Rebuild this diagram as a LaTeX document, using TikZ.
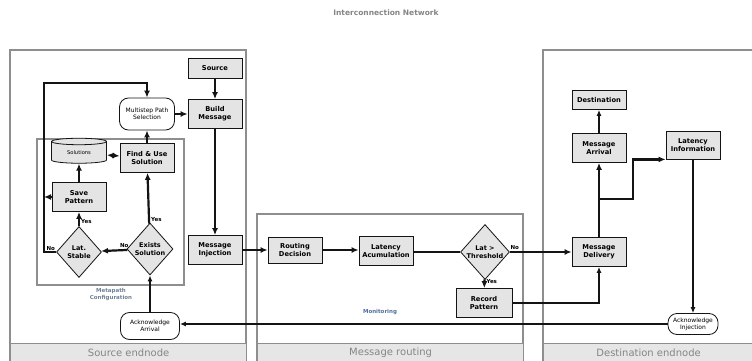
\documentclass[tikz,border=0pt]{standalone}
\usepackage{fontspec}
\setmainfont{DejaVu Sans}
\usetikzlibrary{
  arrows.meta,
  positioning,
  shapes.geometric
}
\definecolor{ink}{HTML}{141414}
\definecolor{boxfill}{HTML}{E4E4E4}
\definecolor{frame}{HTML}{8E8E8E}
\definecolor{band}{HTML}{E6E6E6}
\definecolor{bandtext}{HTML}{858585}
\definecolor{groupblue}{HTML}{6F8296}
\definecolor{monblue}{HTML}{4F6F9F}
\tikzset{
  flow/.style={
    -{Latex[length=7pt,width=6pt]},
    line width=2.2pt,
    draw=ink
  },
  thinflow/.style={
    -{Latex[length=6pt,width=5pt]},
    line width=1.3pt,
    draw=ink
  },
  step box/.style={
    draw=ink,
    fill=boxfill,
    line width=0.8pt,
    minimum width=54pt,
    minimum height=29pt,
    inner sep=1pt,
    align=center,
    font=\fontsize{6.7}{7.8}\selectfont\bfseries
  },
  terminal/.style={
    draw=ink,
    fill=white,
    line width=0.8pt,
    rounded corners=9pt,
    inner sep=1pt,
    align=center,
    font=\fontsize{6}{7.2}\selectfont
  },
  decision/.style={
    diamond,
    draw=ink,
    fill=boxfill,
    line width=0.8pt,
    inner sep=0pt,
    minimum width=46pt,
    minimum height=52pt,
    align=center,
    font=\fontsize{6.5}{7.6}\selectfont\bfseries
  },
  store/.style={
    cylinder,
    shape border rotate=90,
    aspect=0.25,
    draw=ink,
    fill=boxfill,
    line width=0.8pt,
    minimum width=55pt,
    minimum height=25pt,
    inner sep=1pt,
    font=\fontsize{5.2}{6}\selectfont
  },
  panel/.style={
    draw=frame,
    line width=1.2pt
  },
  paneltitle/.style={
    fill=band,
    draw=frame,
    line width=1.2pt,
    minimum height=18pt,
    inner sep=0pt,
    text=bandtext,
    font=\fontsize{10}{11}\selectfont
  },
  answer/.style={
    inner sep=1pt,
    font=\fontsize{5.5}{6}\selectfont\bfseries
  },
  grouplabel/.style={
    align=center,
    font=\fontsize{5.5}{7}\selectfont\bfseries
  }
}

\begin{document}
\begin{tikzpicture}[x=1pt,y=-1pt]
  \useasboundingbox (0,0) rectangle (752,361);

  % panels
  \draw[panel] (10,361) -- (10,50) -- (246,50) -- (246,361);
  \node[paneltitle, minimum width=236pt, anchor=north west] (srcband) at (10,343) {Source endnode};
  \draw[panel] (257,361) -- (257,214) -- (523,214) -- (523,361);
  \node[paneltitle, minimum width=266pt, anchor=north west] (rtband) at (257,343) {Message routing};
  \draw[panel] (543,361) -- (543,50) -- (753,50);
  \node[paneltitle, minimum width=210pt, anchor=north west] (dstband) at (543,343) {Destination endnode};
  \draw[panel] (37,139) rectangle (184,285);

  \node[grouplabel, text=bandtext, font=\fontsize{7.5}{8}\selectfont\bfseries] (nettitle) at (386,13) {Interconnection Network};
  \node[grouplabel, text=groupblue] (metalabel) at (111,295) {Metapath\\Configuration};
  \node[grouplabel, text=monblue] (monlabel) at (380,312) {Monitoring};

  % source endnode
  \node[step box, minimum height=20pt] (source) at (215,68) {Source};
  \node[step box] (build) at (215,114) {Build\\Message};
  \node[terminal, minimum width=55pt, minimum height=32pt] (multistep) at (147,114) {Multistep Path\\Selection};
  \node[store] (solutions) at (79,153) {Solutions};
  \node[step box] (findsol) at (147,158) {Find \& Use\\Solution};
  \node[step box] (savepat) at (79,197) {Save\\Pattern};
  \node[decision, minimum width=45pt, minimum height=51pt] (latstable) at (79,252) {Lat.\\Stable};
  \node[decision] (exists) at (150,249) {Exists\\Solution};
  \node[step box] (inject) at (215,250) {Message\\Injection};
  \node[terminal, minimum width=59pt, minimum height=27pt] (ackarr) at (150,326) {Acknowledge\\Arrival};

  % message routing
  \node[step box, minimum height=26pt] (routing) at (295,250) {Routing\\Decision};
  \node[step box] (latacc) at (386,251) {Latency\\Acumulation};
  \node[decision, minimum width=47pt, minimum height=55pt] (threshold) at (485,252) {Lat >\\Threshold};
  \node[step box, minimum width=56pt] (record) at (484,303) {Record\\Pattern};

  % destination endnode
  \node[step box, minimum height=19pt] (dest) at (599,100) {Destination};
  \node[step box] (arrival) at (599,148) {Message\\Arrival};
  \node[step box, minimum height=28pt] (latinfo) at (693,145) {Latency\\Information};
  \node[step box] (delivery) at (599,252) {Message\\Delivery};
  \node[terminal, minimum width=50pt, minimum height=21pt] (ackinj) at (693,324) {Acknowledge\\Injection};

  \coordinate (looptop) at (44,83);
  \coordinate (split) at (599,199);
  \coordinate (bend) at (633,199);

  % connectors
  \draw[flow] (source) -- (build);
  \draw[flow] (multistep) -- (build);
  \draw[flow] (build) -- (inject);
  \draw[flow] (findsol) -- (multistep);
  \draw[flow, {Latex[length=7pt,width=6pt]}-{Latex[length=7pt,width=6pt]}] (solutions) -- (findsol);
  \draw[flow] (savepat) -- (solutions);
  \draw[flow] (savepat.west) -- (savepat.west -| looptop);
  \draw[flow] (latstable.west) -| (looptop) -| (multistep.north);
  \draw[flow] (latstable) -- node[answer, pos=0.35, right] {Yes} (savepat);
  \draw[flow] (exists) -- node[answer, pos=0.12, above] {No} (latstable);
  \draw[flow] (exists) -- node[answer, pos=0.08, right] {Yes} (findsol);
  \node[answer, above left=0pt and 0pt of latstable.west] (nolabel) {No};
  \draw[thinflow] (ackarr) -- (exists);

  \draw[flow] (inject) -- (routing);
  \draw[flow] (routing) -- (latacc.west |- routing.east);
  \draw[line width=2.2pt, draw=ink] (latacc.east |- threshold.west) -- (threshold.west);
  \draw[flow] (threshold.east) -- node[answer, pos=0.08, above] {No} (delivery.west |- threshold.east);
  \draw[flow] (threshold) -- node[answer, pos=0.2, right] {Yes} (record);
  \draw[thinflow] (record.east) -| (delivery.south);

  \draw[flow] (delivery) -- (arrival);
  \draw[flow] (split) -- (bend) |- (latinfo.south west);
  \draw[thinflow] (arrival) -- (dest);
  \draw[thinflow] (latinfo) -- (ackinj);
  \draw[thinflow] (ackinj.west) -- (ackarr.east |- ackinj.west);
\end{tikzpicture}
\end{document}
